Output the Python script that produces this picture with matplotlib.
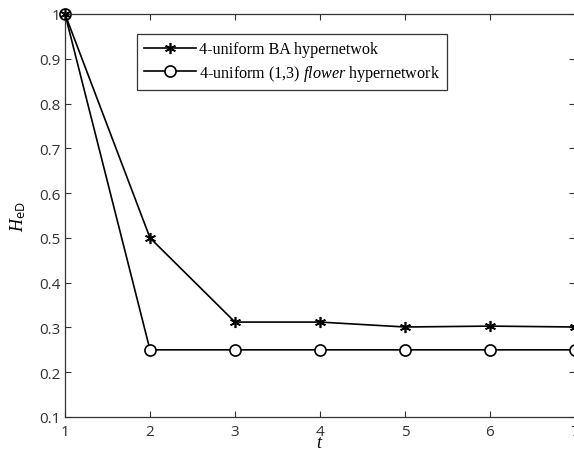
import matplotlib
matplotlib.use("Agg")
import matplotlib.pyplot as plt

plt.rcParams["mathtext.fontset"] = "custom"
plt.rcParams["mathtext.it"] = "Liberation Serif:italic"
plt.rcParams["mathtext.rm"] = "Open Sans"

t = [1, 2, 3, 4, 5, 6, 7]
ba = [1.0, 0.5, 0.312, 0.312, 0.301, 0.303, 0.301]
flower = [1.0, 0.25, 0.25, 0.25, 0.25, 0.25, 0.25]
yticks = [0.1, 0.2, 0.3, 0.4, 0.5, 0.6, 0.7, 0.8, 0.9, 1.0]
ytick_labels = ["0.1", "0.2", "0.3", "0.4", "0.5", "0.6", "0.7", "0.8", "0.9", "1"]

W, H = 574, 452
fig = plt.figure(figsize=(W / 100, H / 100), dpi=100)
ax = fig.add_axes([65 / W, 1 - 418 / H, (575 - 65) / W, (418 - 15) / H])

ax.plot(t, ba, color="black", lw=1.2, marker=(6, 2, 0), ms=8, mew=1.2,
        label="4-uniform BA hypernetwok", clip_on=False, zorder=3)
ax.plot(t, flower, color="black", lw=1.2, marker="o", ms=8, mfc="white", mew=1.2,
        label="4-uniform (1,3) $\\it{flower}$ hypernetwork", clip_on=False, zorder=2)

ax.set_xlim(1, 7)
ax.set_ylim(0.1, 1.0)
ax.set_xticks(t)
ax.set_yticks(yticks)
ax.set_yticklabels(ytick_labels)
ax.tick_params(direction="in", length=4, labelsize=11, colors="#333333",
               top=True, right=True)
ax.tick_params(axis="x", pad=5)
for lab in ax.get_xticklabels() + ax.get_yticklabels():
    lab.set_family("Open Sans")
for s in ax.spines.values():
    s.set_linewidth(0.9)
    s.set_color("#333333")

ax.set_xlabel("$t$", fontsize=13, labelpad=-4)
ax.set_ylabel("$H_{\\mathrm{eD}}$", fontsize=13, labelpad=8)

leg = ax.legend(loc="upper left", bbox_to_anchor=((137 - 65) / (575 - 65), 1 - (35 - 15) / (418 - 15)),
                borderaxespad=0,
                frameon=True, fancybox=False, edgecolor="#333333", framealpha=1,
                prop={"family": "Liberation Serif", "size": 11.6},
                handlelength=3.2, borderpad=0.45, labelspacing=0.35, handletextpad=0.2)
leg.get_frame().set_linewidth(0.9)

fig.savefig("out.png", dpi=100)
